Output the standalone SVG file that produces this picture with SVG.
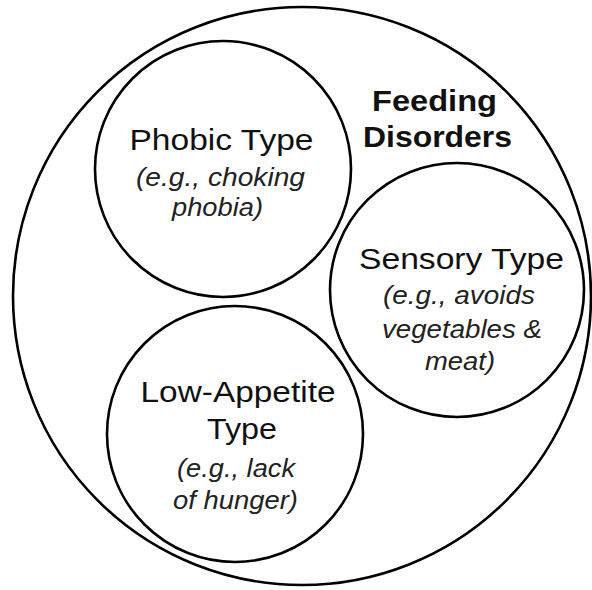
<svg xmlns="http://www.w3.org/2000/svg" width="592" height="590" viewBox="0 0 592 590">
<style>
.c{fill:none;stroke:#000;stroke-width:2.6}
.t{font-family:"Liberation Sans",Arial,sans-serif;font-size:30px;fill:#111;text-anchor:middle}
.i{font-family:"Liberation Sans",Arial,sans-serif;font-size:25px;font-style:italic;fill:#222;text-anchor:middle}
.b{font-family:"Liberation Sans",Arial,sans-serif;font-size:30px;font-weight:bold;fill:#111;text-anchor:middle}
</style>
<rect width="592" height="590" fill="#fff"/>
<g id="feeding-disorders">
<circle class="c" cx="302" cy="296" r="289"/>
<text class="b" x="434.5" y="111" textLength="125" lengthAdjust="spacingAndGlyphs">Feeding</text>
<text class="b" x="437.5" y="147" textLength="149" lengthAdjust="spacingAndGlyphs">Disorders</text>
</g>
<g id="phobic-type">
<circle class="c" cx="223" cy="169" r="128"/>
<text class="t" x="221.5" y="150" textLength="184" lengthAdjust="spacingAndGlyphs">Phobic Type</text>
<text class="i" x="220.5" y="186" textLength="169" lengthAdjust="spacingAndGlyphs">(e.g., choking</text>
<text class="i" x="217.5" y="216" textLength="91" lengthAdjust="spacingAndGlyphs">phobia)</text>
</g>
<g id="sensory-type">
<circle class="c" cx="457" cy="290" r="127"/>
<text class="t" x="461.5" y="269" textLength="205" lengthAdjust="spacingAndGlyphs">Sensory Type</text>
<text class="i" x="459" y="304" textLength="152" lengthAdjust="spacingAndGlyphs">(e.g., avoids</text>
<text class="i" x="462" y="338" textLength="160" lengthAdjust="spacingAndGlyphs">vegetables &amp;</text>
<text class="i" x="460" y="370" textLength="70" lengthAdjust="spacingAndGlyphs">meat)</text>
</g>
<g id="low-appetite-type">
<circle class="c" cx="235" cy="434" r="128"/>
<text class="t" x="238" y="402" textLength="195" lengthAdjust="spacingAndGlyphs">Low-Appetite</text>
<text class="t" x="242" y="439" textLength="70" lengthAdjust="spacingAndGlyphs">Type</text>
<text class="i" x="236" y="477" textLength="118" lengthAdjust="spacingAndGlyphs">(e.g., lack</text>
<text class="i" x="235.5" y="509" textLength="125" lengthAdjust="spacingAndGlyphs">of hunger)</text>
</g>
<g id="connectors"/>
</svg>
